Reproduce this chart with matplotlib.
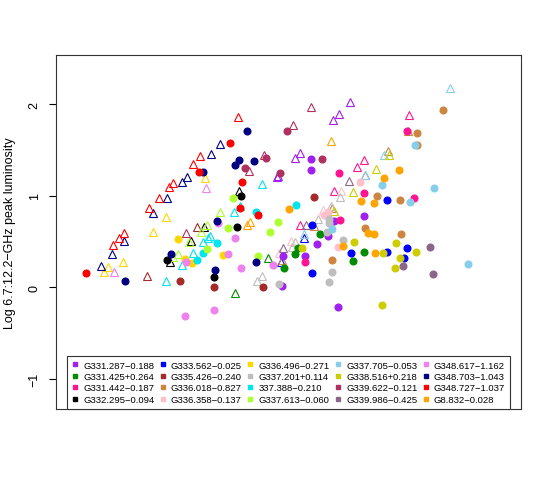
import matplotlib
matplotlib.use("Agg")
import matplotlib.pyplot as plt
from matplotlib.lines import Line2D

plt.rcParams['font.family'] = ['Liberation Sans', 'DejaVu Sans']

# source names and colours (legend order)
names = ["G331.287\u22120.188", "G331.425+0.264", "G331.442\u22120.187", "G332.295\u22120.094",
         "G333.562\u22120.025", "G335.426\u22120.240", "G336.018\u22120.827", "G336.358\u22120.137",
         "G336.496\u22120.271", "G337.201+0.114", "337.388\u22120.210", "G337.613\u22120.060",
         "G337.705\u22120.053", "G338.516+0.218", "G339.622\u22120.121", "G339.986\u22120.425",
         "G348.617\u22121.162", "G348.703\u22121.043", "G348.727\u22121.037", "G8.832\u22120.028"]
colors = ["#A020F0", "#008B00", "#FF1493", "#000000", "#0000FF", "#A52A2A", "#CD853F", "#FFC0CB",
          "#FFD700", "#BEBEBE", "#00E5EE", "#ADFF2F", "#87CEEB", "#CDCD00", "#B03060", "#8B668B",
          "#EE82EE", "#000080", "#FF0000", "#FFA500"]

# filled circles: x and log peak luminosity ratio per source
circ_x = [
    [2.55, 2.55, 3.08, 2.78, 2.72, 2.61, 2.49, 2.27, 2.26, 2.82],
    [2.64, 2.42, 2.39, 2.28, 3.08, 2.97],
    [2.83, 3.08, 2.84, 2.49, 3.58, 3.51],
    [1.11, 1.58, 1.81, 1.85],
    [2.56, 2.56, 2.95, 3.31, 3.31, 3.51, 3.48],
    [1.24, 1.58, 2.07, 2.58],
    [3.87, 3.61, 3.61, 3.21, 3.44, 3.09, 3.45, 2.76],
    [3.04, 2.68, 2.72, 2.82],
    [1.22, 1.29, 1.36, 1.67],
    [2.73, 2.73, 2.71, 2.87, 2.76, 2.73, 2.23],
    [1.41, 1.47, 1.61, 2.00, 2.40],
    [1.51, 1.72, 1.77, 2.22, 2.14, 2.02],
    [3.59, 3.26, 3.78, 3.54, 2.76, 4.12],
    [2.46, 2.98, 3.40, 3.60, 3.27, 3.44, 3.39, 3.26],
    [2.31, 2.10, 2.66, 1.89, 2.24],
    [3.74, 3.47, 3.77],
    [1.29, 1.58, 1.30, 1.72, 1.62, 1.79, 1.85, 2.17],
    [0.69, 1.15, 1.59, 1.61, 1.47, 1.91, 1.83, 1.79, 1.98, 2.00],
    [0.30, 1.43, 1.74, 1.86, 1.84, 2.02],
    [2.33, 3.05, 3.18, 3.43, 3.28, 2.87, 3.12, 3.18, 3.19],
]
circ_y = [
    [1.40, 1.28, 0.78, 0.72, 0.56, 0.47, 0.34, 0.34, 0.01, -0.22],
    [0.58, 0.43, 0.36, 0.21, 0.38, 0.28],
    [1.25, 1.03, 0.73, 0.27, 0.97, 1.70],
    [0.30, 0.11, 0.66, 0.99],
    [0.68, 0.15, 0.37, 0.38, 0.95, 0.43, 0.32],
    [0.07, 0.00, 0.00, 0.98],
    [1.93, 1.68, 1.55, 0.99, 0.95, 0.64, 0.58, 0.30],
    [1.15, 0.79, 0.82, 0.44],
    [0.52, 0.31, 0.26, 0.35],
    [0.74, 0.70, 0.60, 0.51, 0.16, 0.05, 0.03],
    [0.30, 0.37, 0.48, 0.82, 0.90],
    [0.42, 0.64, 0.97, 0.71, 0.60, 0.34],
    [1.55, 1.11, 1.08, 0.93, 0.63, 0.25],
    [0.43, 0.49, 0.48, 0.38, 0.37, 0.32, 0.21, -0.20],
    [1.70, 1.41, 1.40, 1.30, 1.25],
    [0.44, 0.23, 0.14],
    [-0.32, -0.25, 0.27, 0.36, 0.70, 0.54, 0.21, 0.24],
    [0.07, 0.36, 0.19, 0.72, 1.26, 1.70, 1.39, 1.33, 1.38, 0.27],
    [0.15, 1.26, 1.57, 1.15, 0.86, 0.79],
    [0.85, 0.94, 0.92, 1.28, 1.19, 0.45, 0.59, 0.58, 0.37],
]

# open triangles
tri_x = [
    [2.94, 2.83, 2.77, 2.44, 2.39, 2.21, 2.22],
    [1.79, 2.12],
    [3.08, 3.01, 2.78, 2.44, 3.53],
    [1.48, 1.35, 1.14, 1.83],
    [2.25, 2.48],
    [0.91, 1.41],
    [3.52, 3.32, 2.76, 2.58, 2.26, 3.09],
    [2.85, 2.67, 2.35, 2.23],
    [1.49, 1.10, 0.97, 0.67, 0.52, 0.48],
    [2.84, 2.75, 2.62, 2.39, 2.36, 2.06, 2.01],
    [1.10, 1.37, 1.26, 1.47, 1.52, 1.54, 1.84, 1.78, 2.06],
    [1.51, 1.45, 1.33, 1.64, 1.22, 1.17],
    [3.94, 3.28, 3.09, 2.48],
    [3.33, 3.20, 2.97, 2.78],
    [2.55, 2.37, 2.08, 1.93, 1.30],
    [2.93, 2.50, 2.27],
    [1.50, 0.58],
    [1.64, 1.55, 1.31, 1.26, 1.11, 0.97, 0.68, 0.56, 0.45],
    [1.82, 1.44, 1.37, 1.17, 1.13, 1.03, 0.93, 0.68, 0.63, 0.57],
    [2.75, 1.94, 1.91],
]
tri_y = [
    [2.02, 1.89, 1.83, 1.46, 1.41, 1.20, 1.21],
    [-0.07, 0.32],
    [1.39, 1.31, 1.05, 0.68, 1.88],
    [0.66, 0.50, 0.27, 1.05],
    [0.27, 0.54],
    [0.12, 0.66],
    [1.70, 1.49, 0.86, 0.67, 0.30, 1.22],
    [1.05, 0.84, 0.50, 0.37],
    [1.19, 0.77, 0.60, 0.27, 0.22, 0.16],
    [0.98, 0.89, 0.74, 0.49, 0.44, 0.12, 0.07],
    [0.07, 0.37, 0.24, 0.49, 0.54, 0.56, 0.89, 0.82, 1.13],
    [0.68, 0.60, 0.49, 0.82, 0.36, 0.33],
    [2.17, 1.44, 1.22, 0.58],
    [1.44, 1.29, 1.04, 0.83],
    [1.97, 1.77, 1.44, 1.27, 0.59],
    [1.16, 0.68, 0.43],
    [1.08, 0.16],
    [1.56, 1.45, 1.20, 1.15, 0.97, 0.81, 0.50, 0.36, 0.23],
    [1.86, 1.43, 1.35, 1.14, 1.09, 0.97, 0.86, 0.59, 0.54, 0.46],
    [1.60, 0.71, 0.68],
]

fig = plt.figure(figsize=(5.5, 4.81), dpi=100)
ax = fig.add_axes([56 / 550, 71 / 481, 465 / 550, 354 / 481])

for i in range(len(names)):
    ax.plot(tri_x[i], tri_y[i], '^', ms=5.2, mfc='none', mec=colors[i], mew=0.8, ls='none')
for i in range(len(names)):
    ax.plot(circ_x[i], circ_y[i], 'o', ms=4.8, color=colors[i], mec=colors[i], ls='none')

ax.set_xlim(0, 4.65)
ax.set_ylim(-1.333, 2.536)
ax.set_xticks([])
ax.set_yticks([-1, 0, 1, 2])
ax.set_yticklabels(['\u22121', '0', '1', '2'], rotation=90, va='center', fontsize=9)
ax.tick_params(axis='y', length=5, width=0.8, pad=6)
ax.set_ylabel('Log 6.7:12.2\u2212GHz peak luminosity', fontsize=9, labelpad=9)
for s in ax.spines.values():
    s.set_linewidth(0.8)
    s.set_color('#333333')

handles = [Line2D([], [], marker='s', ls='none', ms=3.5, color=c) for c in colors]
leg = ax.legend(handles, names, loc='lower center', bbox_to_anchor=(0.5, 0), ncol=5,
                fontsize=6.8, frameon=True, fancybox=False, framealpha=1,
                borderaxespad=0, handlelength=0.7, handletextpad=0.5,
                columnspacing=0.55, labelspacing=0.25, borderpad=0.55)
leg.get_frame().set_edgecolor('#333333')
leg.get_frame().set_linewidth(0.8)

fig.savefig('out.png', dpi=100)
